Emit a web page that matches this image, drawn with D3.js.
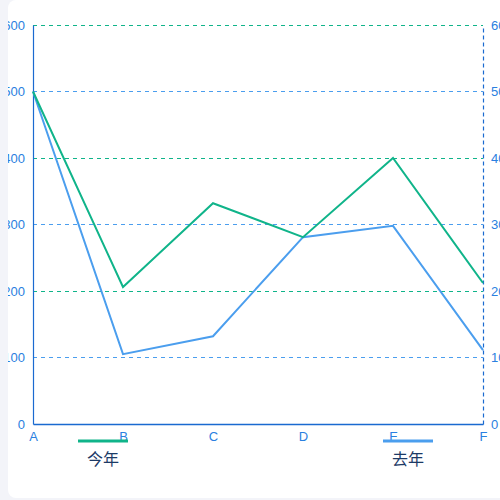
<!DOCTYPE html>
<html>
<head>
<meta charset="utf-8">
<script src="https://cdn.jsdelivr.net/npm/d3@7"></script>
<style>
  html, body { margin: 0; padding: 0; background: #f3f4f9; }
  #card {
    position: absolute; left: 8px; top: 0; width: 520px; height: 498px;
    background: #fff; border-radius: 8px; overflow: hidden;
  }
  svg { font-family: "Noto Sans", "Noto Sans CJK SC", sans-serif; }
</style>
</head>
<body>
<div id="card"><svg id="chart" width="520" height="498"></svg></div>
<script>
// categories and series values
var categories = ["A", "B", "C", "D", "E", "F"];
var thisYear = [500, 206, 332, 281, 400, 212];
var lastYear = [500, 105, 132, 281, 298, 111];
var yTicks = [0, 100, 200, 300, 400, 500, 600];
var seriesNames = ["今年", "去年"];

var green = "#10b48a", blue = "#4b9eee", axisColor = "#1a6ad0", labelColor = "#2a80e0";

// card starts at x=8 so the plot sits at 33..483 on the page
var margin = {left: 25, top: 25},
    width = 450, height = 399;

var svg = d3.select("#chart");
var g = svg.append("g").attr("transform", "translate(" + margin.left + "," + margin.top + ")");

var x = d3.scalePoint().domain(categories).range([0, width]);
var y = d3.scaleLinear().domain([0, 600]).range([height, 0]);

// grid lines, alternating green / blue
g.selectAll(".grid")
  .data(yTicks.filter(function(d) { return d > 0; }))
  .enter()
  .append("line")
  .attr("x1", 0)
  .attr("x2", width)
  .attr("y1", function(d) { return y(d); })
  .attr("y2", function(d) { return y(d); })
  .attr("stroke", function(d) { return (d / 100) % 2 == 0 ? green : blue; })
  .attr("stroke-dasharray", "4,4")
  .attr("stroke-width", 1)
  .attr("shape-rendering", "crispEdges");

// left axis
var left = g.append("g").call(d3.axisLeft(y).tickValues(yTicks).tickSize(0).tickPadding(8));
left.select(".domain").attr("stroke", axisColor).attr("stroke-width", 1.2);
left.selectAll("text").attr("fill", labelColor).style("font-size", "13px");

// right axis, dashed
var right = g.append("g").attr("transform", "translate(" + width + ",0)")
  .call(d3.axisRight(y).tickValues(yTicks).tickSize(0).tickPadding(8));
right.select(".domain").attr("stroke", axisColor).attr("stroke-dasharray", "4,3").attr("stroke-width", 1.2);
right.selectAll("text").attr("fill", labelColor).style("font-size", "13px");

// bottom axis
var bottom = g.append("g").attr("transform", "translate(0," + height + ")")
  .call(d3.axisBottom(x).tickSize(0).tickPadding(8));
bottom.select(".domain").attr("stroke", axisColor).attr("stroke-width", 1.5);
bottom.selectAll("text").attr("fill", labelColor).style("font-size", "13px");

var line = d3.line()
  .x(function(d, i) { return x(categories[i]); })
  .y(function(d) { return y(d); });

g.append("path").datum(lastYear)
  .attr("fill", "none").attr("stroke", blue).attr("stroke-width", 2).attr("d", line);
g.append("path").datum(thisYear)
  .attr("fill", "none").attr("stroke", green).attr("stroke-width", 2).attr("d", line);

// legend
var legendX = [70, 375];
var legendColors = [green, blue];
seriesNames.forEach(function(name, i) {
  var lg = svg.append("g").attr("transform", "translate(" + legendX[i] + ",441)");
  lg.append("line").attr("x1", 0).attr("x2", 50).attr("y1", 0).attr("y2", 0)
    .attr("stroke", legendColors[i]).attr("stroke-width", 3);
  lg.append("text").attr("x", 25).attr("y", 24).attr("text-anchor", "middle")
    .attr("fill", "#1c3a66").style("font-size", "16px").text(name);
});
</script>
</body>
</html>
